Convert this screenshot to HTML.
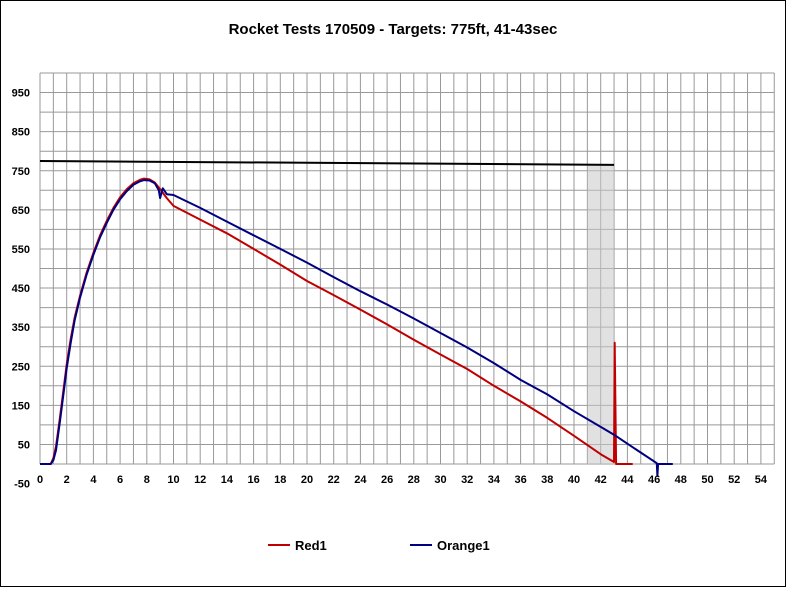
<!DOCTYPE html>
<html><head><meta charset="utf-8"><style>
body{margin:0;background:#fff;font-family:"Liberation Sans",Arial,sans-serif}
svg text{font-family:"Liberation Sans",Arial,sans-serif}
</style></head><body>
<svg width="786" height="587" viewBox="0 0 786 587">
<rect x="0.5" y="0.5" width="785" height="586" fill="#fff" stroke="#000"/>
<text x="393" y="34" text-anchor="middle" font-size="15" font-weight="bold">Rocket Tests 170509 - Targets: 775ft, 41-43sec</text>
<g id="grid"></g>
<g id="marks"></g>
<g id="axes"></g>
<g>
<line x1="268" y1="545" x2="290" y2="545" stroke="#c00000" stroke-width="2"/>
<text x="295" y="550" font-size="13" font-weight="bold">Red1</text>
<line x1="410" y1="545" x2="432" y2="545" stroke="#000080" stroke-width="2"/>
<text x="437" y="550" font-size="13" font-weight="bold">Orange1</text>
</g>
</svg>
<script>
const xTicks=[0,2,4,6,8,10,12,14,16,18,20,22,24,26,28,30,32,34,36,38,40,42,44,46,48,50,52,54];
const yTicks=[-50,50,150,250,350,450,550,650,750,850,950];
const redT=[0,0.8,1.0,1.2,1.5,1.8,2,2.3,2.6,3,3.5,4,4.5,5,5.5,6,6.5,7,7.5,7.8,8.2,8.6,9,9.5,10,12,14,16,18,20,22,24,26,28,30,32,34,36,38,40,42,43,43.05,43.15,43.3,44.4];
const redV=[0,0,15,45,120,200,255,320,375,430,490,540,585,622,655,682,703,718,727,730,728,720,703,680,660,625,590,550,510,468,432,395,357,318,280,243,200,160,118,72,25,5,310,0,0,0];
const blueT=[0,0.8,1.0,1.2,1.5,1.8,2,2.3,2.6,3,3.5,4,4.5,5,5.5,6,6.5,7,7.5,7.8,8.2,8.6,8.9,9.0,9.2,9.5,10,12,14,16,18,20,22,24,26,28,30,32,34,36,38,40,42,43,44,46.2,46.25,46.3,47.4];
const blueV=[0,0,10,35,110,190,245,310,368,425,485,535,580,617,650,677,698,714,723,726,725,718,700,680,705,690,688,655,620,585,550,515,478,442,408,372,335,298,258,215,178,135,95,75,52,2,-30,0,0];
const targetAlt=[775,765];
const targetWin=[41,43];
const X0=40,PX=13.35,Y0=464,PY=0.391;
const xs=v=>X0+v*PX, ys=v=>Y0-v*PY;
const NS="http://www.w3.org/2000/svg";
function mk(p,t,a){const e=document.createElementNS(NS,t);for(const k in a)e.setAttribute(k,a[k]);p.appendChild(e);return e;}
const grid=document.getElementById('grid'),marks=document.getElementById('marks'),axes=document.getElementById('axes');
for(let i=0;i<=55;i++){const l=mk(grid,'line',{x1:xs(i),x2:xs(i),y1:ys(1000),y2:ys(0),stroke:'#999','stroke-width':1});

}
for(let v=0;v<=1000;v+=50){const l=mk(grid,'line',{x1:xs(0),x2:xs(55),y1:ys(v),y2:ys(v),stroke:'#999','stroke-width':1});

}
const sh=mk(marks,'rect',{x:xs(targetWin[0]),y:ys(targetAlt[1]),width:xs(targetWin[1])-xs(targetWin[0]),height:ys(0)-ys(targetAlt[1]),fill:'#c8c8c8','fill-opacity':0.55});


const tl=mk(marks,'line',{x1:xs(0),x2:xs(targetWin[1]),y1:ys(targetAlt[0]),y2:ys(targetAlt[1]),stroke:'#000','stroke-width':2});


function series(T,V,c,n){const d=T.map((t,i)=>(i?'L':'M')+xs(t).toFixed(1)+','+ys(V[i]).toFixed(1)).join('');
const p=mk(marks,'path',{d:d,fill:'none',stroke:c,'stroke-width':2,'stroke-linejoin':'round'});

}
series(redT,redV,'#c00000','series-red1');
series(blueT,blueV,'#000080','series-orange1');
xTicks.forEach(v=>{const t=mk(axes,'text',{x:xs(v),y:483,'text-anchor':'middle','font-size':11,'font-weight':'bold'});t.textContent=v;

});
yTicks.forEach(v=>{const t=mk(axes,'text',{x:30,y:ys(v)+4,'text-anchor':'end','font-size':11,'font-weight':'bold'});t.textContent=v;

});
</script>
</body></html>
